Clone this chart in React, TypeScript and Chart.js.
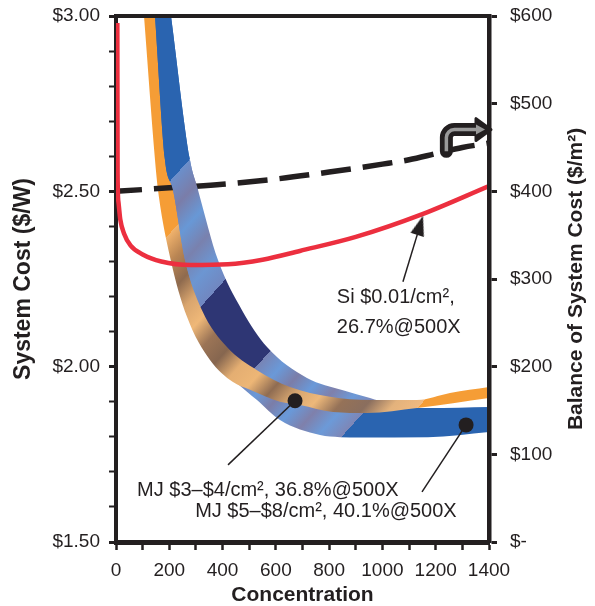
import React, { useEffect, useRef } from 'react';
import { Chart, registerables } from 'chart.js';

Chart.register(...registerables);

const FONT = "'Liberation Sans', Arial, Helvetica, sans-serif";
const INK = '#231F20';
const RED = '#EC2F3F';

// ---------------- data ----------------
// Si $0.01/cm², 26.7% @500X : system cost ($/W) vs concentration
const SI_CONC = [5, 6, 9, 16, 30, 55, 100, 170, 280, 420, 550, 690, 900, 1150, 1400];
const SI_COST = [2.98, 2.55, 2.47, 2.42, 2.38, 2.345, 2.32, 2.3, 2.29, 2.292, 2.305, 2.33, 2.37, 2.435, 2.515];

// Balance of system cost ($/m²), right axis
const BOS_CONC = [0, 200, 400, 600, 800, 1000, 1100, 1200, 1300, 1400];
const BOS_COST = [400, 404, 408, 414, 422, 431, 436, 443, 450, 455];

// MJ $3–$4/cm² band (upper / lower edge, $/W)
const MJ1_UP_CONC = [93, 137.4, 146.4, 183.9, 213.9, 259, 322.8, 416.6, 529.2, 653.1, 803.2, 953.4, 1129.8, 1253.6, 1400];
const MJ1_UP_COST = [4.5, 3.1, 3.0, 2.589, 2.504, 2.304, 2.161, 2.056, 1.99, 1.942, 1.914, 1.905, 1.905, 1.925, 1.942];
const MJ1_LO_CONC = [95, 105.1, 146.4, 157.6, 202.7, 266.5, 352.8, 439.1, 503, 615.5, 690.6, 814.5, 942.1, 1129.8, 1400];
const MJ1_LO_COST = [3.1, 3.0, 2.589, 2.504, 2.313, 2.142, 2.019, 1.956, 1.934, 1.9, 1.891, 1.871, 1.868, 1.882, 1.911];

// MJ $5–$8/cm² band (upper / lower edge, $/W)
const MJ2_UP_CONC = [100, 189.2, 206.4, 277.7, 307.8, 382.8, 472.9, 566.8, 716.9, 852, 953.4, 1066, 1171, 1400];
const MJ2_UP_COST = [4.5, 3.1, 3.0, 2.589, 2.504, 2.304, 2.161, 2.056, 1.968, 1.933, 1.911, 1.885, 1.882, 1.885];
const MJ2_LO_CONC = [105.1, 116.4, 153.9, 168.9, 213.9, 277.7, 364.1, 454.2, 529.2, 615.5, 765.7, 840.8, 915.8, 1171, 1400];
const MJ2_LO_COST = [3.1, 3.0, 2.589, 2.504, 2.313, 2.142, 2.019, 1.953, 1.905, 1.848, 1.805, 1.799, 1.798, 1.799, 1.814];

// the MJ $5–$8 ribbon passes in front of the dashed line where it crosses it
const FRONT_MAX_CONC = 330;

// callouts
const SI_PTR_CONC = [1077, 1141.3];
const SI_PTR_COST = [2.242, 2.403];
const MJ1_PTR_CONC = [672, 420.4];
const MJ1_PTR_COST = [1.903, 1.72];
const MJ2_PTR_CONC = [1314, 1148.5];
const MJ2_PTR_COST = [1.834, 1.643];

const SI_NOTE = ['Si $0.01/cm²,', '26.7%@500X'];
const SI_NOTE_CONC = 829;
const SI_NOTE_COST = [2.196, 2.112];
const MJ_NOTES = ['MJ $3–$4/cm², 36.8%@500X', 'MJ $5–$8/cm², 40.1%@500X'];
const MJ_NOTE_CONC = [79, 297];
const MJ_NOTE_COST = [1.6455, 1.5856];

// bent arrow pointing to right axis: stem x / tip x, stem bottom / bar level
const BENT_CONC = [1240, 1407.5];
const BENT_COST = [2.614, 2.676];

// ---------------- shading ----------------
const BLUE = '#2A64B0';
const NAVY = '#2E3674';
const ORANGE = '#F59D36';
const BLUE_CUTS: [number, number][] = [[244, 2.564], [368, 2.213], [559, 2.028], [893, 1.839]];
const BLUE_REGIONS = [
  [BLUE],
  ['#6B8FCB', '#7A7DA9', '#6898D6', '#7981AE', '#6C96D2', '#7187C0'],
  [NAVY],
  ['#7884B5', '#6A99D8', '#7B7DA8', '#6999D9', '#7F80AB', '#6C9AD8', '#7E86B6'],
  [BLUE],
];
const ORANGE_CUTS: [number, number][] = [[210, 2.387], [1152, 1.899]];
const ORANGE_REGIONS = [
  [ORANGE],
  ['#F0B26C', '#B98553', '#8E6A4E', '#D9A56E', '#EFB878', '#9B7456', '#86664F', '#E4AE72', '#EDB676',
    '#8F6C52', '#D7A670', '#EDB87A', '#957258', '#8A6E5E', '#E3B27C', '#F1BA80'],
  [ORANGE],
];

const pts = (xs: number[], ys: number[]) => xs.map((x, i) => ({ x, y: ys[i] }));
const ptsUpTo = (xs: number[], ys: number[], max: number) => pts(xs, ys).filter((p) => p.x <= max);

function bandFill(cuts: [number, number][], regions: string[][]) {
  return (c: any) => {
    const chart = c.chart;
    const area = chart.chartArea;
    if (!area || !chart.scales.x) return regions[0][0];
    const sx = chart.scales.x;
    const sy = chart.scales.y;
    const n = Math.hypot(1, 0.9);
    const dx = 1 / n;
    const dy = 0.9 / n;
    const L = (area.right - area.left) * dx + (area.bottom - area.top) * dy;
    const g = chart.ctx.createLinearGradient(area.left, area.top, area.left + dx * L, area.top + dy * L);
    const proj = ([cx, cy]: [number, number]) =>
      Math.min(1, Math.max(0, ((sx.getPixelForValue(cx) - area.left) * dx + (sy.getPixelForValue(cy) - area.top) * dy) / L));
    const b = [0, ...cuts.map(proj), 1];
    regions.forEach((cols, i) => {
      const a0 = b[i];
      const a1 = b[i + 1];
      if (cols.length === 1) {
        g.addColorStop(a0, cols[0]);
        g.addColorStop(a1, cols[0]);
      } else {
        cols.forEach((col, k) => g.addColorStop(a0 + ((a1 - a0) * k) / (cols.length - 1), col));
      }
    });
    return g;
  };
}

const isHalf = (v: number) => Math.abs(v * 2 - Math.round(v * 2)) < 1e-6;

const fixBox = (w: number | null, h: number | null) => (s: any) => {
  if (w !== null) s.width = w;
  if (h !== null) s.height = h;
  s.paddingTop = 0;
  s.paddingBottom = 0;
  s.paddingLeft = 0;
  s.paddingRight = 0;
};

const notesPlugin = {
  id: 'notes',
  afterDraw(chart: any) {
    const { ctx, chartArea } = chart;
    const sx = chart.scales.x;
    const sy = chart.scales.y;
    const X = (v: number) => sx.getPixelForValue(v);
    const Y = (v: number) => sy.getPixelForValue(v);
    ctx.save();

    // bent arrow
    const ax = X(BENT_CONC[0]);
    const ay0 = Y(BENT_COST[0]);
    const ay1 = Y(BENT_COST[1]);
    const tipX = X(BENT_CONC[1]);
    const r = 8;
    const headL = 15;
    const headW = 11;
    const path = () => {
      ctx.beginPath();
      ctx.moveTo(ax, ay0);
      ctx.lineTo(ax, ay1 + r);
      ctx.arcTo(ax, ay1, ax + r, ay1, r);
      ctx.lineTo(tipX - headL, ay1);
    };
    ctx.lineCap = 'round';
    ctx.lineJoin = 'round';
    path();
    ctx.strokeStyle = INK;
    ctx.lineWidth = 13;
    ctx.stroke();
    ctx.beginPath();
    ctx.moveTo(tipX, ay1);
    ctx.lineTo(tipX - headL, ay1 - headW);
    ctx.lineTo(tipX - headL, ay1 + headW);
    ctx.closePath();
    ctx.fillStyle = INK;
    ctx.fill();
    ctx.lineWidth = 3;
    ctx.stroke();
    path();
    ctx.lineCap = 'butt';
    ctx.strokeStyle = '#9A9A9A';
    ctx.lineWidth = 3.5;
    ctx.stroke();
    ctx.beginPath();
    ctx.moveTo(tipX - 6, ay1);
    ctx.lineTo(tipX - headL, ay1 - 5);
    ctx.lineTo(tipX - headL, ay1 + 5);
    ctx.closePath();
    ctx.fillStyle = '#9A9A9A';
    ctx.fill();

    // notes
    ctx.fillStyle = INK;
    ctx.font = `20px ${FONT}`;
    ctx.textAlign = 'left';
    ctx.textBaseline = 'middle';
    SI_NOTE.forEach((t, i) => ctx.fillText(t, X(SI_NOTE_CONC), Y(SI_NOTE_COST[i])));
    MJ_NOTES.forEach((t, i) => ctx.fillText(t, X(MJ_NOTE_CONC[i]), Y(MJ_NOTE_COST[i])));

    // right axis title
    ctx.translate(chart.width - 19, (chartArea.top + chartArea.bottom) / 2);
    ctx.rotate(-Math.PI / 2);
    ctx.font = `bold 21px ${FONT}`;
    ctx.textAlign = 'center';
    ctx.fillText('Balance of System Cost ($/m²)', 0, 0);
    ctx.restore();
  },
};

export default function App() {
  const ref = useRef<HTMLCanvasElement | null>(null);

  useEffect(() => {
    if (!ref.current) return;
    Chart.defaults.font.family = FONT;
    Chart.defaults.color = INK;

    const head = document.createElement('canvas');
    head.width = 14;
    head.height = 20;
    const hc = head.getContext('2d')!;
    hc.fillStyle = INK;
    hc.beginPath();
    hc.moveTo(7, 0);
    hc.lineTo(14, 20);
    hc.lineTo(0, 20);
    hc.closePath();
    hc.fill();

    const band = (data: any[], order: number, fill: any, bg?: any) => ({
      data,
      xAxisID: 'x',
      yAxisID: 'y',
      borderWidth: 0,
      borderColor: 'rgba(0,0,0,0)',
      pointRadius: 0,
      fill,
      backgroundColor: bg || 'rgba(0,0,0,0)',
      cubicInterpolationMode: 'monotone',
      capBezierPoints: false,
      order,
    });

    const chart = new Chart(ref.current, {
      type: 'line',
      data: {
        datasets: [
          {
            data: pts(SI_PTR_CONC, SI_PTR_COST),
            xAxisID: 'x',
            yAxisID: 'y',
            borderColor: INK,
            borderWidth: 1.5,
            pointRadius: [0, 10],
            pointStyle: (c: any) => (c.dataIndex === 1 ? head : 'circle'),
            pointRotation: 17,
            pointBorderWidth: 0,
            pointBackgroundColor: INK,
            fill: false,
            order: 0,
          } as any,
          {
            data: pts(MJ1_PTR_CONC, MJ1_PTR_COST),
            xAxisID: 'x',
            yAxisID: 'y',
            borderColor: INK,
            borderWidth: 1.5,
            pointRadius: [7.5, 0],
            pointBorderWidth: 0,
            pointBackgroundColor: INK,
            fill: false,
            order: 0,
          },
          {
            data: pts(MJ2_PTR_CONC, MJ2_PTR_COST),
            xAxisID: 'x',
            yAxisID: 'y',
            borderColor: INK,
            borderWidth: 1.5,
            pointRadius: [7.5, 0],
            pointBorderWidth: 0,
            pointBackgroundColor: INK,
            fill: false,
            order: 0,
          },
          {
            data: pts(BOS_CONC, BOS_COST),
            xAxisID: 'x',
            yAxisID: 'y2',
            borderColor: INK,
            borderWidth: 5.5,
            borderDash: [30, 12],
            borderDashOffset: 4,
            pointRadius: 0,
            cubicInterpolationMode: 'monotone',
            fill: false,
            order: 1,
          },
          {
            data: pts(SI_CONC, SI_COST),
            xAxisID: 'x',
            yAxisID: 'y',
            borderColor: RED,
            borderWidth: 4.5,
            pointRadius: 0,
            cubicInterpolationMode: 'monotone',
            fill: false,
            order: 0.5,
          },
          band(pts(MJ1_UP_CONC, MJ1_UP_COST), 3, 6, bandFill(ORANGE_CUTS, ORANGE_REGIONS)),
          band(pts(MJ1_LO_CONC, MJ1_LO_COST), 4, false),
          band(pts(MJ2_UP_CONC, MJ2_UP_COST), 5, 8, bandFill(BLUE_CUTS, BLUE_REGIONS)),
          band(pts(MJ2_LO_CONC, MJ2_LO_COST), 6, false),
          // front part of the MJ $5–$8 ribbon (over the dashed line)
          band(ptsUpTo(MJ2_UP_CONC, MJ2_UP_COST, FRONT_MAX_CONC), 0.7, 10, bandFill(BLUE_CUTS, BLUE_REGIONS)),
          band(ptsUpTo(MJ1_UP_CONC, MJ1_UP_COST, FRONT_MAX_CONC), 0.8, false),
        ] as any,
      },
      options: {
        animation: false,
        responsive: false,
        devicePixelRatio: 1,
        events: [],
        layout: { padding: 0 },
        plugins: { legend: { display: false }, tooltip: { enabled: false } },
        scales: {
          x: {
            type: 'linear',
            position: 'bottom',
            min: 0,
            max: 1400,
            afterFit: fixBox(null, 64),
            ticks: {
              stepSize: 100,
              autoSkip: false,
              maxRotation: 0,
              padding: 9,
              font: { size: 19 },
              color: INK,
              callback: (v: any) => (Number(v) % 200 === 0 ? String(v) : ''),
            },
            grid: { drawOnChartArea: false, drawTicks: true, tickLength: 8, tickColor: INK, tickWidth: 2.5 },
            border: { display: true, color: INK, width: 5, z: 1 },
            title: {
              display: true,
              text: 'Concentration',
              color: INK,
              font: { size: 21, weight: 'bold', lineHeight: 1 },
              padding: { top: 0, bottom: 0 },
            },
          },
          xTop: {
            type: 'linear',
            position: 'top',
            min: 0,
            max: 1400,
            afterFit: fixBox(null, 16),
            ticks: { display: false },
            grid: { display: false, drawTicks: false },
            border: { display: true, color: INK, width: 4, z: 1 },
          },
          y: {
            type: 'linear',
            position: 'left',
            min: 1.5,
            max: 3,
            afterFit: fixBox(116, null),
            ticks: {
              stepSize: 0.1,
              autoSkip: false,
              padding: 9,
              font: { size: 19 },
              color: INK,
              callback: (v: any) => {
                const t = Math.round(Number(v) * 100) / 100;
                return isHalf(t) ? '$' + t.toFixed(2) : '';
              },
            },
            grid: {
              drawOnChartArea: false,
              tickLength: 7,
              tickColor: INK,
              tickWidth: (c: any) => (c.tick && isHalf(c.tick.value) ? 3 : 2),
            },
            border: { display: true, color: INK, width: 4 },
            title: {
              display: true,
              text: 'System Cost ($/W)',
              color: INK,
              font: { size: 23, weight: 'bold', lineHeight: 1 },
              padding: { top: 12.5, bottom: 0 },
            },
          },
          y2: {
            type: 'linear',
            position: 'right',
            min: 0,
            max: 600,
            afterFit: fixBox(106, null),
            ticks: {
              stepSize: 100,
              padding: 13,
              font: { size: 19 },
              color: INK,
              callback: (v: any) => (Number(v) === 0 ? '$-' : '$' + v),
            },
            grid: { drawOnChartArea: false, tickLength: 8, tickColor: INK, tickWidth: 3 },
            border: { display: true, color: INK, width: 4.5, z: 1 },
          },
        },
      } as any,
      plugins: [notesPlugin],
    });

    return () => chart.destroy();
  }, []);

  return (
    <div style={{ position: 'absolute', left: 0, top: 0, width: 595, height: 606, background: '#fff' }}>
      <canvas ref={ref} width={595} height={606} style={{ display: 'block', width: 595, height: 606 }} />
    </div>
  );
}
